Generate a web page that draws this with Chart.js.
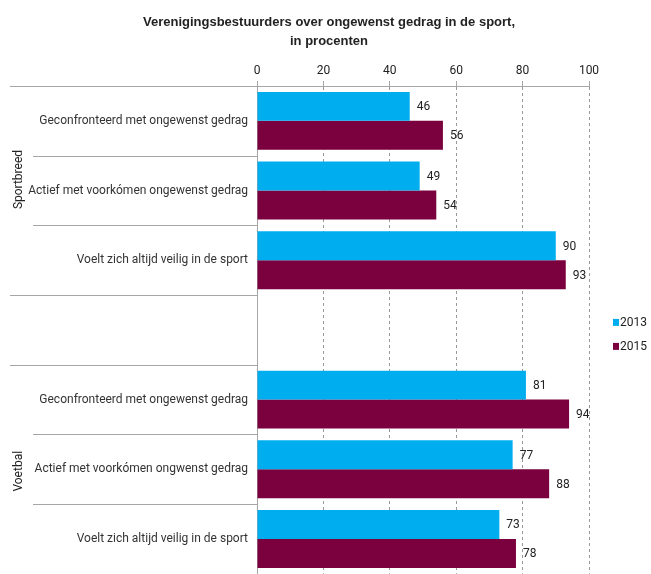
<!DOCTYPE html>
<html>
<head>
<meta charset="utf-8">
<script src="https://cdn.jsdelivr.net/npm/chart.js@4.4.0/dist/chart.umd.min.js"></script>
<style>
  body { margin: 0; overflow: hidden; background: #fff; }
  #wrap { position: relative; width: 651px; height: 590px; }
  #titel { position: absolute; left: 0; top: 12px; width: 658px; text-align: center;
    font: bold 13px "Liberation Sans", sans-serif; color: #222; line-height: 19px; }
</style>
</head>
<body>
<div id="wrap">
  <div id="titel">Verenigingsbestuurders over ongewenst gedrag in de sport,<br>in procenten</div>
  <canvas id="grafiek" width="651" height="590"></canvas>
</div>
<script>
// data
const labels = [
    "Geconfronteerd met ongewenst gedrag",
    "Actief met voorkómen ongewenst gedrag",
    "Voelt zich altijd veilig in de sport",
    "",
    "Geconfronteerd met ongewenst gedrag",
    "Actief met voorkómen ongwenst gedrag",
    "Voelt zich altijd veilig in de sport"
];
const groepen = [
    { naam: "Sportbreed", van: 0, tot: 2, dy: -11 },
    { naam: "Voetbal", van: 4, tot: 6, dy: 2 }
];
const jaren = ["2013", "2015"];
const waarden2013 = [46, 49, 90, null, 81, 77, 73];
const waarden2015 = [56, 54, 93, null, 94, 88, 78];
const xTicks = [0, 20, 40, 60, 80, 100];

const kleuren = ["#00AEEF", "#7A003E"];
const lijnKleur = "#a6a6a6";
const fontNaam = "Roboto, sans-serif";

// lijnen tussen de categorieën, groepsnamen, waarden en legenda
const scheidingPlugin = {
    id: "scheiding",
    afterDraw(chart) {
        const c = chart.ctx;
        const y = chart.scales.y;
        const area = chart.chartArea;
        const n = labels.length;
        const grens = [];
        for (let i = 0; i <= n; i++) {
            if (i === 0) grens.push(area.top);
            else if (i === n) grens.push(area.bottom);
            else grens.push((y.getPixelForValue(i - 1) + y.getPixelForValue(i)) / 2);
        }
        const groot = [0, 3, 4, 7];
        c.save();
        c.strokeStyle = lijnKleur;
        c.lineWidth = 1;
        grens.forEach((py, i) => {
            const xStart = groot.includes(i) ? 10 : 33;
            c.beginPath();
            c.moveTo(xStart, Math.round(py) + 0.5);
            c.lineTo(area.left, Math.round(py) + 0.5);
            c.stroke();
        });
        c.fillStyle = "#222";
        c.font = "12px " + fontNaam;
        c.textAlign = "center";
        c.textBaseline = "middle";
        groepen.forEach(g => {
            const midden = (grens[g.van] + grens[g.tot + 1]) / 2 + g.dy;
            c.save();
            c.translate(19, midden);
            c.rotate(-Math.PI / 2);
            c.fillText(g.naam, 0, 0);
            c.restore();
        });
        // waarden naast de balken
        c.textAlign = "left";
        chart.data.datasets.forEach((ds, di) => {
            chart.getDatasetMeta(di).data.forEach((bar, i) => {
                const v = ds.data[i];
                if (v === null || v === undefined) return;
                c.fillText(String(v), bar.x + 7, bar.y + 1);
            });
        });
        // legenda
        const ly = (area.top + area.bottom) / 2 - 8;
        chart.data.datasets.forEach((ds, di) => {
            const py = ly + di * 24;
            c.fillStyle = ds.backgroundColor;
            c.fillRect(613, py - 3, 6, 7);
            c.fillStyle = "#222";
            c.fillText(ds.label, 620, py + 1);
        });
        c.restore();
    }
};

const ctx = document.getElementById("grafiek");
const chart = new Chart(ctx, {
    type: "bar",
    data: {
        labels: labels,
        datasets: [
            { label: jaren[0], data: waarden2013, backgroundColor: kleuren[0] },
            { label: jaren[1], data: waarden2015, backgroundColor: kleuren[1] }
        ]
    },
    options: {
        indexAxis: "y",
        responsive: false,
        animation: false,
        categoryPercentage: 0.83,
        barPercentage: 1,
        layout: { padding: { left: 0, right: 62, top: 0, bottom: 13 } },
        plugins: {
            legend: { display: false },
            tooltip: { enabled: false }
        },
        scales: {
            x: {
                position: "top",
                min: 0,
                max: 100,
                afterBuildTicks: s => { s.ticks = xTicks.map(v => ({ value: v })); },
                afterFit: s => { s.height = 86; },
                grid: {
                    color: "#999",
                    tickLength: 5,
                    tickBorderDash: [],
                    tickColor: lijnKleur
                },
                border: { display: true, color: lijnKleur, dash: [3, 3] },
                ticks: { color: "#222", padding: 3, font: { size: 12, family: fontNaam } }
            },
            y: {
                afterFit: s => { s.width = 257; },
                grid: { display: false, drawTicks: false },
                border: { display: true, color: lijnKleur },
                ticks: { color: "#333", padding: 9, font: { size: 12, family: fontNaam } }
            }
        }
    },
    plugins: [scheidingPlugin]
});
</script>
</body>
</html>
